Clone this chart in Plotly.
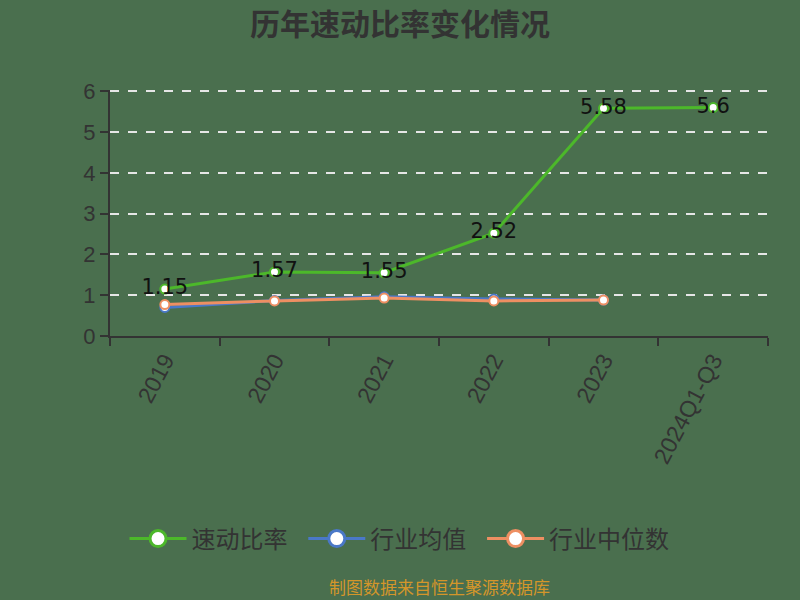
import plotly.graph_objects as go

categories = ["2019", "2020", "2021", "2022", "2023", "2024Q1-Q3"]
quick_ratio = [1.15, 1.57, 1.55, 2.52, 5.58, 5.6]
quick_labels = ["1.15", "1.57", "1.55", "2.52", "5.58", "5.6"]
industry_avg = [0.70, 0.87, 0.96, 0.91, 0.88]
industry_median = [0.77, 0.86, 0.93, 0.86, 0.88]
series_names = ["速动比率", "行业均值", "行业中位数"]
series_colors = ["#4cb82a", "#4a78c8", "#ee8f62"]
y_ticks = [0, 1, 2, 3, 4, 5, 6]

BG = "#4a6f4e"
FONT = "Noto Sans CJK SC"

fig = go.Figure()
fig.add_trace(go.Scatter(
    x=categories, y=quick_ratio, name=series_names[0], showlegend=False,
    mode="lines+markers+text", text=quick_labels, textposition="middle center",
    textfont=dict(size=21, color="#111111", family="DejaVu Sans"),
    line=dict(color=series_colors[0], width=3),
    marker=dict(size=9, color="white", line=dict(color=series_colors[0], width=2)),
    cliponaxis=False,
))
fig.add_trace(go.Scatter(
    x=categories[:5], y=industry_avg, name=series_names[1], showlegend=False,
    mode="lines+markers",
    line=dict(color=series_colors[1], width=3),
    marker=dict(size=9, color="white", line=dict(color=series_colors[1], width=2)),
))
fig.add_trace(go.Scatter(
    x=categories[:5], y=industry_median, name=series_names[2], showlegend=False,
    mode="lines+markers",
    line=dict(color=series_colors[2], width=3),
    marker=dict(size=9, color="white", line=dict(color=series_colors[2], width=2)),
))
# legend entries with larger symbols
for i, (name, col) in enumerate(zip(series_names, series_colors)):
    pad = "\u00a0\u00a0" if i < len(series_names) - 1 else ""
    fig.add_trace(go.Scatter(
        x=[None], y=[None], name=name + pad, mode="lines+markers",
        line=dict(color=col, width=3),
        marker=dict(size=22, color="white", line=dict(color=col, width=3)),
    ))

fig.update_layout(
    width=800, height=600,
    paper_bgcolor=BG, plot_bgcolor=BG,
    margin=dict(l=110, r=32, t=90, b=264),
    font=dict(family=FONT, color="#333333"),
    title=dict(text="<b>历年速动比率变化情况</b>", x=0.5, xanchor="center",
               y=0.96, yanchor="middle",
               font=dict(size=30, color="#333333", family=FONT)),
    showlegend=True,
    legend=dict(orientation="h", x=0.44, xanchor="center", y=-0.825, yanchor="middle",
                font=dict(size=24, color="#333333", family=FONT),
                itemwidth=57, bgcolor="rgba(0,0,0,0)"),
    xaxis=dict(
        type="category", categoryorder="array", categoryarray=categories,
        range=[-0.5, 5.5],
        showline=True, linecolor="#333333", linewidth=2,
        ticks="outside", ticklen=8, tickcolor="#333333", tickwidth=2,
        tickson="boundaries", showgrid=False,
        tickangle=-62, tickfont=dict(size=23, color="#333333", family="Liberation Sans"),
    ),
    yaxis=dict(
        range=[0, 6.03], tickvals=y_ticks,
        showline=True, linecolor="#333333", linewidth=2,
        ticks="outside", ticklen=8, tickcolor="#333333", tickwidth=2,
        showgrid=True, gridcolor="#e6e6e6", griddash="dash", gridwidth=1.5,
        zeroline=False,
        tickfont=dict(size=22, color="#333333", family="Liberation Sans"),
    ),
    annotations=[dict(
        text="制图数据来自恒生聚源数据库", xref="paper", yref="paper",
        x=0.5, xanchor="center", y=-1.02, yanchor="middle", showarrow=False,
        font=dict(size=17, color="#d4962a", family=FONT),
    )],
)

fig.write_html("out.html", config={"displayModeBar": False},
               post_script="document.body.style.margin='0';document.body.style.padding='0';")
